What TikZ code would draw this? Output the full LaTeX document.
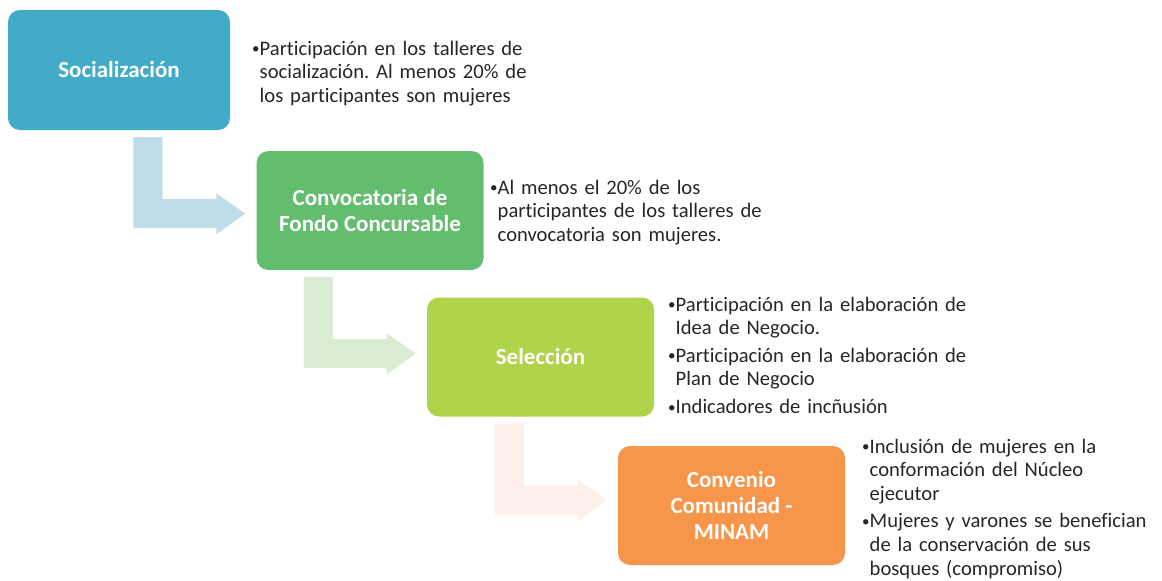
\documentclass[tikz,border=0pt]{standalone}
\usepackage{fontspec}
\setmainfont{Carlito}[Ligatures=NoCommon]
\usetikzlibrary{positioning,calc}
\definecolor{socblue}{HTML}{41ABC8}
\definecolor{convgreen}{HTML}{62BD6F}
\definecolor{sellime}{HTML}{AFD34A}
\definecolor{minorange}{HTML}{F7964A}
\definecolor{arblue}{HTML}{BEDDE8}
\definecolor{argreen}{HTML}{D9EBD2}
\definecolor{arorange}{HTML}{FCEEE8}
\definecolor{inkgrey}{HTML}{262626}
\tikzset{
  blk/.style={rectangle, rounded corners=12pt, fill=#1, text=white, align=center,
              font=\bfseries\fontsize{23}{26}\selectfont,
              minimum width=227pt, minimum height=119pt, inner sep=4pt},
  txt/.style={anchor=north west, text width=330pt, align=left, inner sep=0pt,
              font=\frenchspacing\fontsize{20.6}{23.8}\selectfont, text=inkgrey},
}
% bullet item with hanging indent, gap between items
\newcommand{\pitem}[1]{\par\hangindent=7.5pt\hangafter=1\noindent
  \makebox[7.5pt][l]{\raisebox{1.2pt}{\fontsize{15}{15}\selectfont\textbullet}}#1\par}
\newcommand{\pgap}{\vspace{3.5pt}}
% bent block arrow from below one box to the left of the next
\newcommand{\bendarrow}[3]{%
  \fill[#3] let \p1=(#1.south), \p2=(#2.west) in
    (\x2-123pt,\y1-7pt) -- ++(29pt,0pt) -- ++(0pt,-62pt) -- ++(54pt,0pt) -- ++(0pt,6pt)
    -- ++(29pt,-20.5pt) -- ++(-29pt,-20.5pt) -- ++(0pt,6pt) -- ++(-83pt,0pt) -- cycle;}

\begin{document}
\begin{tikzpicture}[x=1pt, y=-1pt]
  \useasboundingbox (0,0) rectangle (1162,581);

  \node[blk=socblue, minimum width=222pt, minimum height=120pt] (soc) at (119,70) {Socialización};
  \node[blk=convgreen] (conv) at (370,210.5) {Convocatoria de\\Fondo Concursable};
  \node[blk=sellime] (sel) at (540.5,357) {Selección};
  \node[blk=minorange] (mina) at (731.5,505.5) {Convenio\\Comunidad -\\MINAM};

  \bendarrow{soc}{conv}{arblue}
  \bendarrow{conv}{sel}{argreen}
  \bendarrow{sel}{mina}{arorange}

  \node[txt] (tsoc) at (252,31) {\pitem{Participación en los talleres de\newline socialización. Al menos 20\% de\newline los participantes son mujeres}};
  \node[txt] (tconv) at (490,170) {\pitem{Al menos el 20\% de los\newline participantes de los talleres de\newline convocatoria son mujeres.}};
  \node[txt] (tsel) at (668,287) {\pitem{Participación en la elaboración de\newline Idea de Negocio.}\pgap
    \pitem{Participación en la elaboración de\newline Plan de Negocio}\pgap
    \pitem{Indicadores de incñusión}};
  \node[txt] (tmina) at (862,429) {\pitem{Inclusión de mujeres en la\newline conformación del Núcleo\newline ejecutor}\pgap
    \pitem{Mujeres y varones se benefician\newline de la conservación de sus\newline bosques (compromiso)}};
\end{tikzpicture}
\end{document}
